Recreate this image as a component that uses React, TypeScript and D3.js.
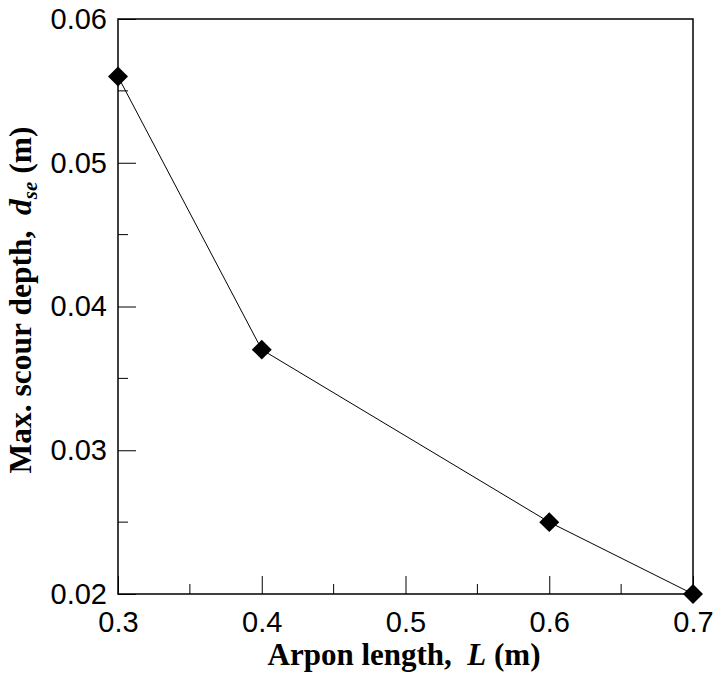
import * as d3 from "d3";
import { useEffect, useRef } from "react";

const lengths = [0.3, 0.4, 0.6, 0.7];
const depths = [0.056, 0.037, 0.025, 0.02];
const xTicks = [0.3, 0.4, 0.5, 0.6, 0.7];
const yTicks = [0.02, 0.03, 0.04, 0.05, 0.06];
const xMinor = [0.35, 0.45, 0.55, 0.65];
const yMinor = [0.025, 0.035, 0.045, 0.055];

export default function App() {
  const width = 714, height = 673;
  const marginLeft = 118, marginRight = 21, marginTop = 19, marginBottom = 79;
  const gx = useRef<SVGGElement>(null);
  const gy = useRef<SVGGElement>(null);

  const x = d3.scaleLinear([0.3, 0.7], [marginLeft, width - marginRight]);
  const y = d3.scaleLinear([0.02, 0.06], [height - marginBottom, marginTop]);
  const points = lengths.map((d, i) => [d, depths[i]] as [number, number]);
  const line = d3.line<[number, number]>().x(d => x(d[0])).y(d => y(d[1]));
  const diamond = d3.symbol(d3.symbolSquare, 200)();

  useEffect(() => {
    const g = d3.select(gx.current!);
    g.call(d3.axisBottom(x).tickValues(xTicks).tickSize(-18).tickPadding(17).tickFormat(d3.format(".1f")));
    g.selectAll("line.minor").data(xMinor).join("line").attr("class", "minor")
      .attr("x1", d => x(d)).attr("x2", d => x(d)).attr("y1", 0).attr("y2", -10).attr("stroke", "black");
    g.select(".domain").remove();
    g.selectAll("text").attr("font-size", 29).attr("font-family", "Liberation Sans, Arial, sans-serif").attr("fill", "black");
  }, [x]);

  useEffect(() => {
    const g = d3.select(gy.current!);
    g.call(d3.axisLeft(y).tickValues(yTicks).tickSize(-18).tickPadding(11).tickFormat(d3.format(".2f")));
    g.selectAll("line.minor").data(yMinor).join("line").attr("class", "minor")
      .attr("y1", d => y(d)).attr("y2", d => y(d)).attr("x1", 0).attr("x2", 10).attr("stroke", "black");
    g.select(".domain").remove();
    g.selectAll("text").attr("font-size", 29).attr("font-family", "Liberation Sans, Arial, sans-serif").attr("fill", "black");
  }, [y]);

  return (
    <svg width={width} height={height} style={{ position: "absolute", left: 0, top: 0 }}>
      <rect x={marginLeft} y={marginTop} width={width - marginLeft - marginRight}
            height={height - marginTop - marginBottom} fill="none" stroke="black" strokeWidth={1.5} />
      <g ref={gx} transform={`translate(0,${height - marginBottom})`} />
      <g ref={gy} transform={`translate(${marginLeft},0)`} />
      <path fill="none" stroke="black" strokeWidth={1} d={line(points)!} />
      {points.map((d, i) => (
        <path key={i} d={diamond!} fill="black" transform={`translate(${x(d[0])},${y(d[1])}) rotate(45)`} />
      ))}
      <text x={404} y={665} textAnchor="middle" xmlSpace="preserve"
            fontFamily="Liberation Serif, Times New Roman, serif" fontWeight="bold" fontSize={31}>
        {"Arpon length,  "}<tspan fontStyle="italic">L</tspan>{" (m)"}
      </text>
      <text transform={`translate(31,300) rotate(-90)`} textAnchor="middle" xmlSpace="preserve"
            fontFamily="Liberation Serif, Times New Roman, serif" fontWeight="bold" fontSize={31.5}>
        {"Max. scour depth,  "}<tspan fontStyle="italic">d</tspan>
        <tspan fontStyle="italic" fontSize={21} dy={6}>se</tspan>
        <tspan dy={-6}>{" (m)"}</tspan>
      </text>
    </svg>
  );
}
